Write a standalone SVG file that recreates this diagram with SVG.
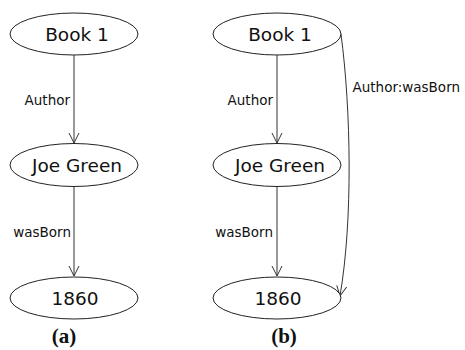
<svg xmlns="http://www.w3.org/2000/svg" width="465" height="350" viewBox="0 0 465 350">
<style>
.node ellipse{fill:#fff;stroke:#222;stroke-width:1}
.node text{font-family:"DejaVu Sans",sans-serif;font-size:18.5px;fill:#111;text-anchor:middle}
.edge{fill:none;stroke:#333;stroke-width:1;marker-end:url(#arr)}
.lbl{font-family:"DejaVu Sans",sans-serif;font-size:13.5px;fill:#111;text-anchor:end}
.cap{font-family:"Liberation Serif",serif;font-weight:bold;font-size:21px;fill:#111;text-anchor:middle}
</style>
<defs>
<marker id="arr" markerWidth="12" markerHeight="12" refX="10" refY="6" orient="auto" markerUnits="userSpaceOnUse">
<path d="M0,1 L10,6 L0,11" fill="none" stroke="#333" stroke-width="1"/>
</marker>
</defs>
<g id="connectors">
<path class="edge" d="M74,55 L74,143"/>
<path class="edge" d="M74,187 L74,276"/>
<path class="edge" d="M277,55 L277,143"/>
<path class="edge" d="M277,187 L277,276"/>
<path class="edge" d="M341,34 C351,110 353,220 340,296"/>
<text class="lbl" x="70" y="105">Author</text>
<text class="lbl" x="71" y="237">wasBorn</text>
<text class="lbl" x="273" y="105">Author</text>
<text class="lbl" x="273" y="237">wasBorn</text>
<text class="lbl" x="460" y="92">Author:wasBorn</text>
</g>
<g id="a-book1" class="node"><ellipse cx="74" cy="34" rx="64" ry="21"/><text x="77" y="41">Book 1</text></g>
<g id="a-joegreen" class="node"><ellipse cx="74" cy="165" rx="64" ry="21.5"/><text x="77" y="172">Joe Green</text></g>
<g id="a-1860" class="node"><ellipse cx="74" cy="298" rx="64" ry="21"/><text x="75" y="305">1860</text></g>
<g id="b-book1" class="node"><ellipse cx="277" cy="34" rx="64" ry="21"/><text x="280" y="41">Book 1</text></g>
<g id="b-joegreen" class="node"><ellipse cx="277" cy="165" rx="64" ry="21.5"/><text x="280" y="172">Joe Green</text></g>
<g id="b-1860" class="node"><ellipse cx="277" cy="298" rx="64" ry="21"/><text x="278" y="305">1860</text></g>
<text class="cap" x="64" y="343">(a)</text>
<text class="cap" x="284" y="343">(b)</text>
</svg>
